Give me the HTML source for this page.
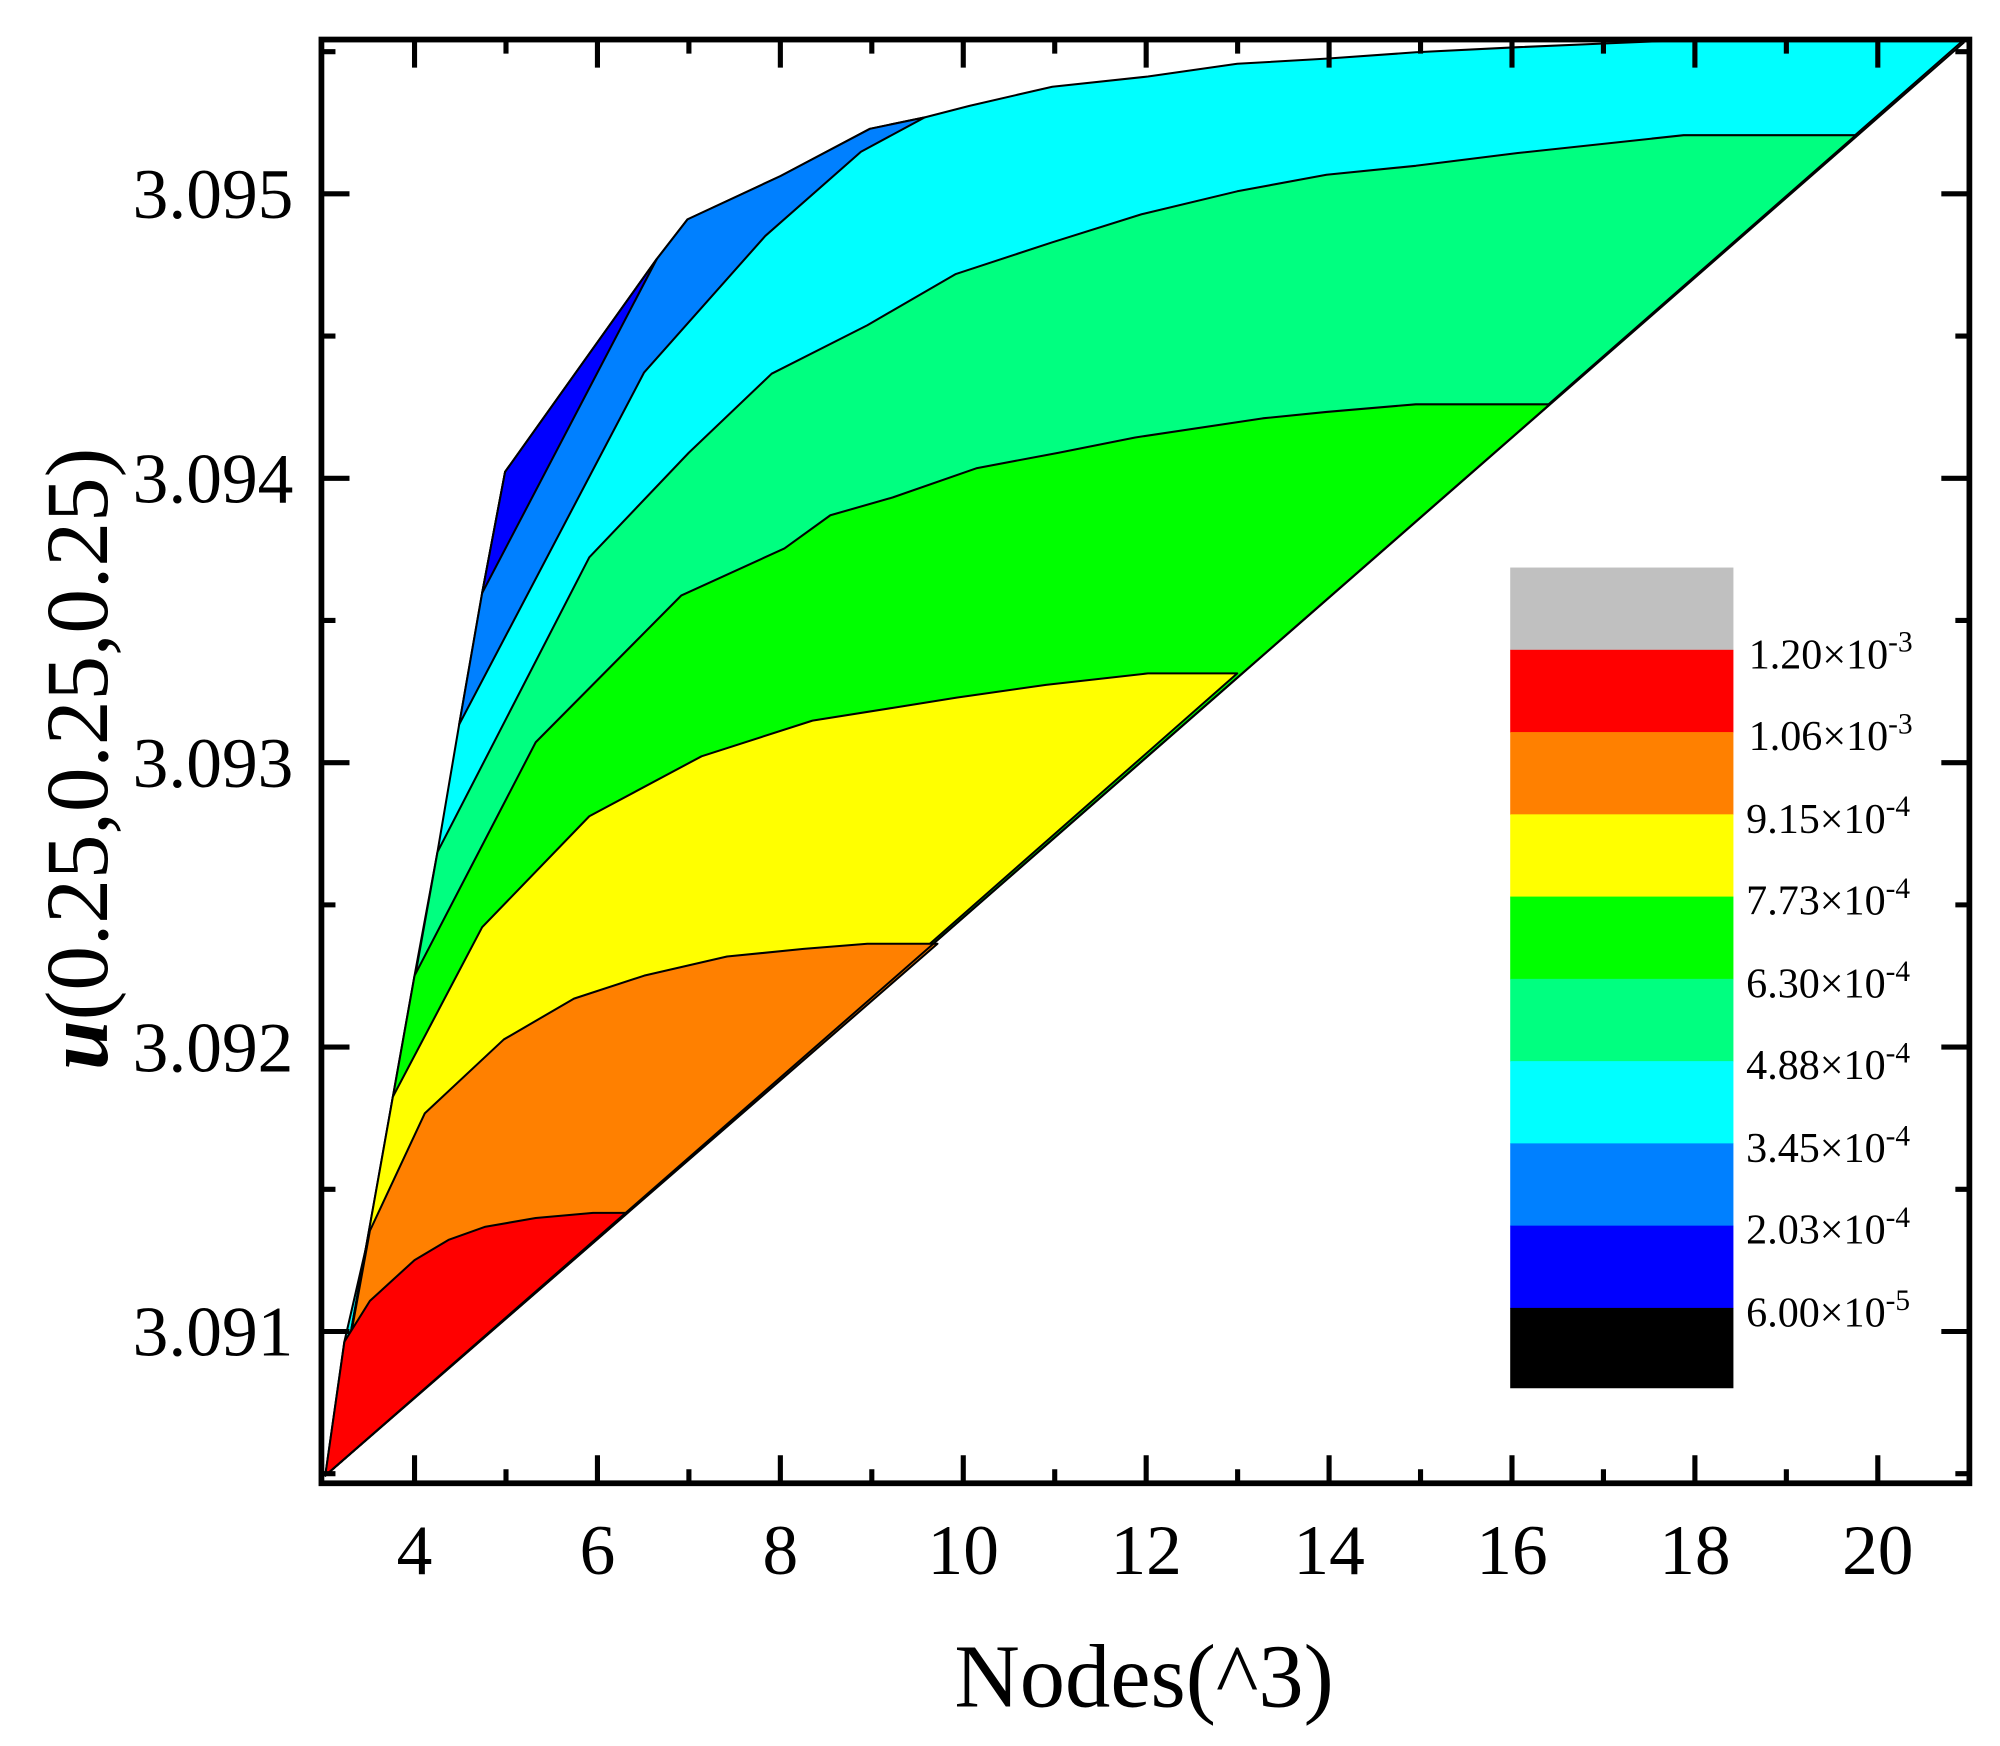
<!DOCTYPE html>
<html><head><meta charset="utf-8"><style>html,body{margin:0;padding:0;background:#fff}svg{display:block}</style></head>
<body>
<svg width="2000" height="1746" viewBox="0 0 1568 1369" preserveAspectRatio="none" xmlns="http://www.w3.org/2000/svg" font-family="Liberation Serif, serif">
<g stroke="#000" stroke-width="1.6" stroke-linejoin="round">
<polygon fill="#00ffff" points="255,1157 270,1052 290,965 308,860 325,765 343,668 360,568 378,465 396,370 515,203 539,172 612,138 682,101 725,92 760,83 825,68 900,60 970,50 1040,46 1110,41 1190,37 1260,34 1330,31 1540,31 255,1157"/>
<polygon fill="#0080ff" points="360,568 378,465 396,370 515,203 539,172 612,138 682,101 725,92 675,119 600,185 505,292"/>
<polygon fill="#0000ff" points="378,465 396,370 515,203"/>
<polygon fill="#00ff80" points="343,668 462,437 540,355 605,293 680,255 749,215 825,190 895,168 970,150 1040,137 1110,130 1190,120 1320,106 1455,106 255,1157"/>
<polygon fill="#00ff00" points="325,765 420,582 534,467 615,430 651,404 700,390 766,367 830,355 890,343 990,328 1040,323 1110,317 1215,317 255,1157"/>
<polygon fill="#ffff00" points="308,860 378,727 462,640 550,593 637,565 700,555 750,547 820,537 900,528 970,528 255,1157"/>
<polygon fill="#ff8000" points="290,965 333,873 395,815 450,783 505,765 570,750 630,744 680,740 735,740 255,1157"/>
<polygon fill="#ff0000" points="270,1052 290,1020 325,988 352,972 380,962 420,955 465,951 492,951 255,1157"/>
<path d="M255,1157L1540,33" fill="none"/>
</g>
<g>
<rect x="1184" y="445" width="175" height="65" fill="#c0c0c0"/>
<rect x="1184" y="509.5" width="175" height="65" fill="#ff0000"/>
<rect x="1184" y="574" width="175" height="65" fill="#ff8000"/>
<rect x="1184" y="638.5" width="175" height="65" fill="#ffff00"/>
<rect x="1184" y="703" width="175" height="65" fill="#00ff00"/>
<rect x="1184" y="767.5" width="175" height="65" fill="#00ff80"/>
<rect x="1184" y="832" width="175" height="65" fill="#00ffff"/>
<rect x="1184" y="896.5" width="175" height="65" fill="#0080ff"/>
<rect x="1184" y="961" width="175" height="65" fill="#0000ff"/>
<rect x="1184" y="1025.5" width="175" height="63" fill="#000000"/>
</g>
<g font-size="33" fill="#000">
<text x="1371" y="524">1.20×10<tspan font-size="23" dy="-13">-3</tspan></text>
<text x="1371" y="588">1.06×10<tspan font-size="23" dy="-13">-3</tspan></text>
<text x="1369" y="653">9.15×10<tspan font-size="23" dy="-13">-4</tspan></text>
<text x="1369" y="717">7.73×10<tspan font-size="23" dy="-13">-4</tspan></text>
<text x="1369" y="782">6.30×10<tspan font-size="23" dy="-13">-4</tspan></text>
<text x="1369" y="846">4.88×10<tspan font-size="23" dy="-13">-4</tspan></text>
<text x="1369" y="911">3.45×10<tspan font-size="23" dy="-13">-4</tspan></text>
<text x="1369" y="975">2.03×10<tspan font-size="23" dy="-13">-4</tspan></text>
<text x="1369" y="1040">6.00×10<tspan font-size="23" dy="-13">-5</tspan></text>
</g>
<rect x="252" y="31" width="1292" height="1132" fill="none" stroke="#000" stroke-width="4.5"/>
<g stroke="#000" stroke-width="4">
<path d="M325,1163v-22M468.4,1163v-22M611.8,1163v-22M755.2,1163v-22M898.6,1163v-22M1042,1163v-22M1185.4,1163v-22M1328.8,1163v-22M1472.2,1163v-22"/>
<path d="M325,31v22M468.4,31v22M611.8,31v22M755.2,31v22M898.6,31v22M1042,31v22M1185.4,31v22M1328.8,31v22M1472.2,31v22"/>
<path d="M396.7,1163v-11M540.1,1163v-11M683.5,1163v-11M826.9,1163v-11M970.3,1163v-11M1113.7,1163v-11M1257.1,1163v-11M1400.5,1163v-11"/>
<path d="M396.7,31v11M540.1,31v11M683.5,31v11M826.9,31v11M970.3,31v11M1113.7,31v11M1257.1,31v11M1400.5,31v11"/>
<path d="M252,152h22M252,375h22M252,598h22M252,821h22M252,1044h22"/>
<path d="M1544,152h-22M1544,375h-22M1544,598h-22M1544,821h-22M1544,1044h-22"/>
<path d="M252,40.5h11M252,263.5h11M252,486.5h11M252,709.5h11M252,932.5h11M252,1155.5h11"/>
<path d="M1544,40.5h-11M1544,263.5h-11M1544,486.5h-11M1544,709.5h-11M1544,932.5h-11M1544,1155.5h-11"/>
</g>
<g font-size="56" fill="#000" text-anchor="end">
<text x="230" y="171">3.095</text>
<text x="230" y="394">3.094</text>
<text x="230" y="617">3.093</text>
<text x="230" y="840">3.092</text>
<text x="230" y="1063">3.091</text>
</g>
<g font-size="56" fill="#000" text-anchor="middle">
<text x="325" y="1234">4</text>
<text x="468.4" y="1234">6</text>
<text x="611.8" y="1234">8</text>
<text x="755.2" y="1234">10</text>
<text x="898.6" y="1234">12</text>
<text x="1042" y="1234">14</text>
<text x="1185.4" y="1234">16</text>
<text x="1328.8" y="1234">18</text>
<text x="1472.2" y="1234">20</text>
</g>
<text x="897" y="1338" font-size="71" text-anchor="middle" fill="#000">Nodes(^3)</text>
<text transform="translate(84,595) rotate(-90)" font-size="70" text-anchor="middle" fill="#000"><tspan font-style="italic" font-weight="bold">u</tspan>(0.25,0.25,0.25)</text>
</svg>
</body></html>
